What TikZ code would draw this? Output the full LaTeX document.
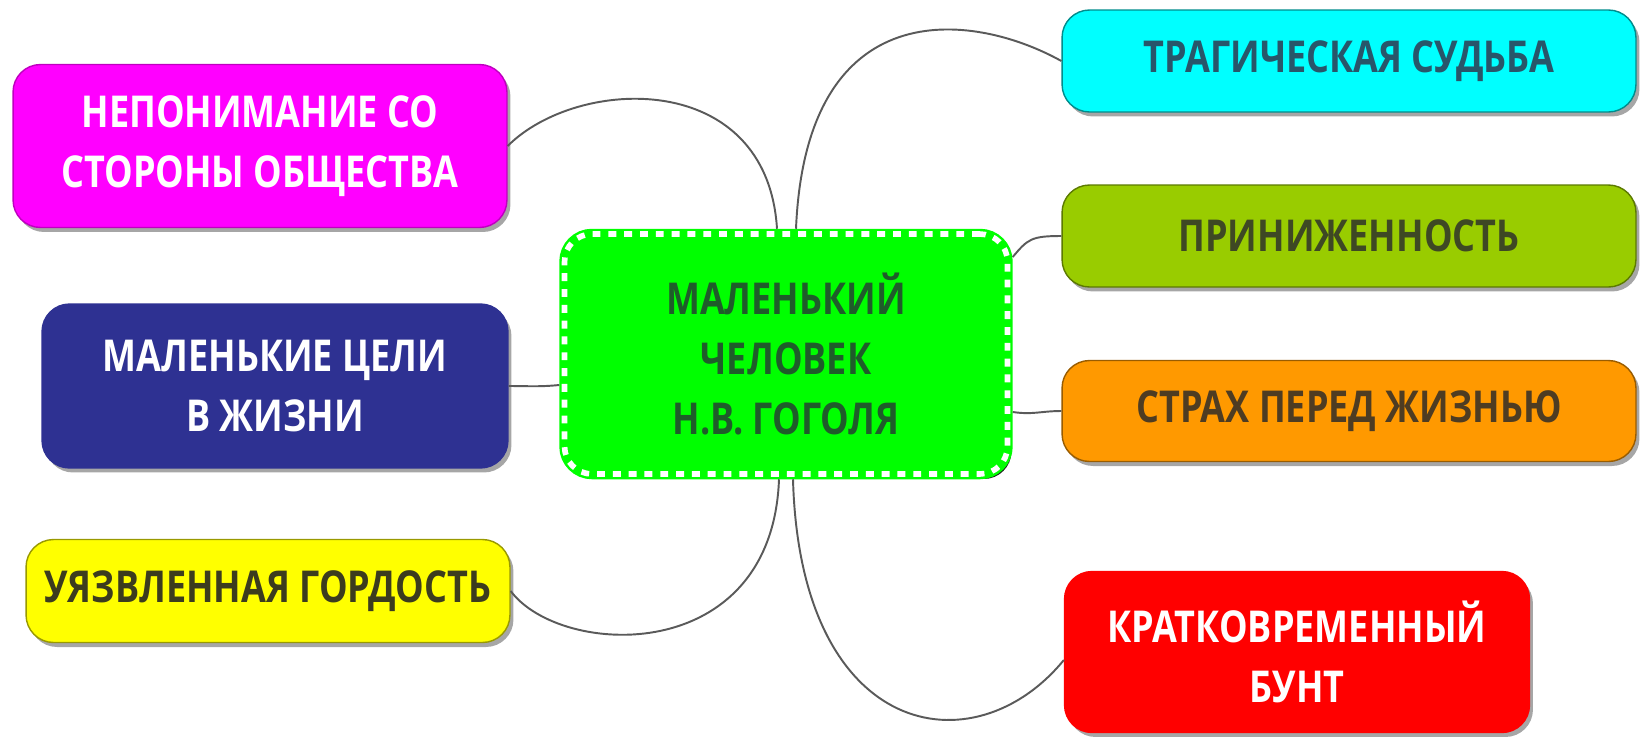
\documentclass[tikz,border=0pt]{standalone}
\usepackage{fontspec}
\setmainfont{Open Sans}[FakeStretch=0.82]
\usepackage{tikz}
\usetikzlibrary{shadows}

\definecolor{linkgray}{HTML}{5A5A5A}
\definecolor{magentafill}{HTML}{FF00FF}
\definecolor{bluefill}{HTML}{2E3192}
\definecolor{yellowfill}{HTML}{FFFF00}
\definecolor{hubfill}{HTML}{00FF00}
\definecolor{cyanfill}{HTML}{00FFFF}
\definecolor{olivefill}{HTML}{99CC00}
\definecolor{orangefill}{HTML}{FF9900}
\definecolor{redfill}{HTML}{FF0000}
\definecolor{cyantext}{HTML}{28566A}
\definecolor{olivetext}{HTML}{3E4824}
\definecolor{orangetext}{HTML}{4E3C22}
\definecolor{yellowtext}{HTML}{3C3C1E}
\definecolor{hubtext}{HTML}{1F5C2A}

\begin{document}
\begin{tikzpicture}[x=0.02cm, y=-0.02cm,
    box/.style={rectangle, rounded corners=0.55cm, line width=0.8pt, align=center, inner sep=0pt,
        font=\bfseries\fontsize{25}{34}\selectfont,
        drop shadow={shadow xshift=0.07cm, shadow yshift=-0.09cm, fill=black, opacity=0.35}},
    link/.style={draw=linkgray, line width=1.1pt}]

    \useasboundingbox[fill=white] (0,0) rectangle (1642,738);

    % Centre
    \node[box, fill=hubfill, draw=hubfill, line width=6pt, text=hubtext,
        minimum width=8.86cm, minimum height=4.8cm,
        drop shadow={shadow xshift=0.08cm, shadow yshift=-0.1cm, fill=black, opacity=0.85},
        postaction={draw=white, line width=3.2pt, dash pattern=on 4.5pt off 4.5pt}]
        (hub) at (786,354) {МАЛЕНЬКИЙ\\ЧЕЛОВЕК\\Н.В. ГОГОЛЯ};

    % Left side
    \node[box, fill=magentafill, draw=magentafill!75!black, text=white,
        minimum width=9.88cm, minimum height=3.26cm] (nepon) at (260,146) {НЕПОНИМАНИЕ СО\\СТОРОНЫ ОБЩЕСТВА};
    \node[box, fill=bluefill, draw=bluefill, text=white,
        minimum width=9.32cm, minimum height=3.28cm] (celi) at (275,386) {МАЛЕНЬКИЕ ЦЕЛИ\\В ЖИЗНИ};
    \node[box, fill=yellowfill, draw=yellowfill!60!black, text=yellowtext,
        minimum width=9.68cm, minimum height=2.06cm] (gord) at (268,591) {УЯЗВЛЕННАЯ ГОРДОСТЬ};

    % Right side
    \node[box, fill=cyanfill, draw=cyanfill!55!black, text=cyantext,
        minimum width=11.48cm, minimum height=2.04cm] (sudba) at (1349,61) {ТРАГИЧЕСКАЯ СУДЬБА};
    \node[box, fill=olivefill, draw=olivefill!60!black, text=olivetext,
        minimum width=11.48cm, minimum height=2.04cm] (prin) at (1349,236) {ПРИНИЖЕННОСТЬ};
    \node[box, fill=orangefill, draw=orangefill!60!black, text=orangetext,
        minimum width=11.48cm, minimum height=2.02cm] (strah) at (1349,411) {СТРАХ ПЕРЕД ЖИЗНЬЮ};
    \node[box, fill=redfill, draw=redfill, text=white,
        minimum width=9.3cm, minimum height=3.22cm] (bunt) at (1297,652) {КРАТКОВРЕМЕННЫЙ\\БУНТ};

    % Links
    \draw[link] (nepon.east) .. controls +(70,-70) and +(-10,-160) .. ([xshift=-0.18cm]hub.north);
    \draw[link] ([xshift=0.2cm]hub.north) .. controls +(10,-237) and +(-90,-50) .. (sudba.west);
    \draw[link] ([yshift=1.94cm]hub.east) .. controls +(15,-18) and +(-30,0) .. (prin.west);
    \draw[link] ([yshift=-1.16cm]hub.east) .. controls +(20,3) and +(-20,0) .. (strah.west);
    \draw[link] (celi.east) .. controls +(20,0) and +(-20,2) .. ([yshift=-0.62cm]hub.west);
    \draw[link] (gord.east) .. controls +(50,67) and +(-7,188) .. ([xshift=-0.14cm]hub.south);
    \draw[link] ([xshift=0.14cm]hub.south) .. controls +(7,260) and +(-90,110) .. ([yshift=-0.16cm]bunt.west);
\end{tikzpicture}
\end{document}
